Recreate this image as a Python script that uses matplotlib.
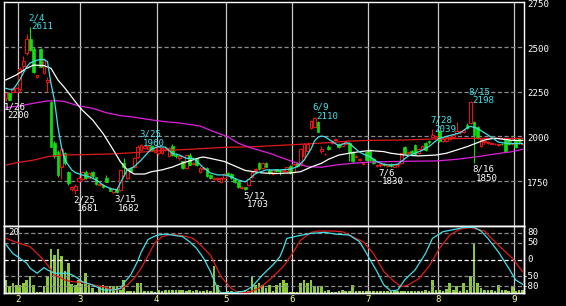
import numpy as np
import pandas as pd
import matplotlib
matplotlib.use("Agg")
import matplotlib.pyplot as plt
from matplotlib import transforms as mtrans

plt.rcParams['lines.scale_dashes'] = False

# ---------------- data ----------------
holidays = ["2022-02-11", "2022-02-23", "2022-03-21", "2022-04-29", "2022-05-03",
            "2022-05-04", "2022-05-05", "2022-07-18", "2022-08-11"]
dates = pd.bdate_range("2022-01-26", "2022-09-05", freq="C", holidays=holidays)

opens = [2215, 2240, 2250, 2250, 2265, 2395, 2467, 2545, 2490, 2332,
         2490, 2356, 2305, 2194, 1965, 1915, 1832, 1905, 1800, 1708,
         1700, 1750, 1760, 1800, 1768, 1800, 1772, 1727, 1728, 1770,
         1712, 1688, 1708, 1702, 1850, 1770, 1826, 1830, 1887, 1925,
         1935, 1930, 1945, 1915, 1905, 1905, 1928, 1890, 1947, 1898,
         1880, 1860, 1825, 1897, 1845, 1878, 1802, 1818, 1822, 1786,
         1762, 1760, 1745, 1770, 1798, 1790, 1765, 1745, 1712, 1715,
         1730, 1775, 1810, 1853, 1822, 1853, 1812, 1790, 1816, 1812,
         1805, 1805, 1836, 1800, 1853, 1840, 1890, 1918, 2045, 2055,
         2082, 1920, 1900, 1943, 1965, 1980, 1960, 1945, 1960, 1962,
         1915, 1885, 1870, 1848, 1915, 1925, 1875, 1836, 1840, 1845,
         1835, 1845, 1832, 1838, 1850, 1943, 1905, 1920, 1950, 1905,
         1930, 1962, 1977, 1998, 1990, 2030, 1975, 1972, 1985, 1995,
         2018, 2022, 2026, 2065, 2075, 2080, 2054, 1945, 1966, 1962,
         1960, 1955, 1952, 1960, 1978, 1980, 1955, 1978, 1984, 1955]
highs = [2250, 2245, 2278, 2275, 2385, 2450, 2570, 2611, 2500, 2345,
         2495, 2440, 2330, 2200, 1975, 1925, 1950, 1912, 1805, 1722,
         1735, 1780, 1808, 1810, 1800, 1805, 1776, 1738, 1732, 1785,
         1718, 1710, 1712, 1815, 1877, 1826, 1830, 1885, 1950, 1960,
         1952, 1955, 1950, 1948, 1945, 1940, 1940, 1940, 1955, 1905,
         1900, 1865, 1900, 1905, 1858, 1882, 1835, 1830, 1828, 1790,
         1775, 1772, 1775, 1795, 1802, 1795, 1770, 1750, 1725, 1720,
         1765, 1805, 1822, 1858, 1855, 1858, 1818, 1816, 1820, 1818,
         1820, 1832, 1840, 1850, 1858, 1936, 1965, 1968, 2090, 2110,
         2088, 1948, 1908, 1952, 1980, 1990, 1965, 1970, 1978, 1968,
         1920, 1895, 1880, 1858, 1920, 1930, 1880, 1846, 1850, 1850,
         1848, 1850, 1845, 1850, 1910, 1948, 1920, 1925, 1955, 1935,
         1950, 1968, 1982, 2039, 2005, 2036, 1990, 2005, 2000, 2015,
         2080, 2035, 2042, 2072, 2198, 2085, 2058, 1990, 1978, 1972,
         1968, 1962, 1960, 1965, 1982, 1985, 1985, 1982, 1988, 1982]
lows = [2200, 2203, 2245, 2245, 2255, 2370, 2455, 2475, 2355, 2325,
        2385, 2350, 2250, 1940, 1880, 1775, 1760, 1840, 1730, 1695,
        1681, 1745, 1752, 1760, 1762, 1770, 1730, 1722, 1712, 1745,
        1694, 1684, 1682, 1698, 1780, 1765, 1800, 1825, 1880, 1918,
        1928, 1925, 1920, 1910, 1898, 1900, 1920, 1885, 1890, 1882,
        1870, 1818, 1820, 1838, 1838, 1835, 1798, 1812, 1772, 1762,
        1755, 1752, 1740, 1765, 1782, 1765, 1742, 1712, 1708, 1703,
        1725, 1770, 1805, 1812, 1818, 1828, 1792, 1786, 1800, 1785,
        1800, 1800, 1792, 1796, 1832, 1835, 1885, 1912, 2040, 2050,
        2022, 1905, 1896, 1925, 1958, 1975, 1935, 1940, 1955, 1860,
        1850, 1880, 1865, 1843, 1865, 1865, 1848, 1832, 1830, 1833,
        1830, 1830, 1828, 1832, 1845, 1900, 1900, 1905, 1895, 1900,
        1925, 1920, 1960, 1995, 1985, 1970, 1970, 1968, 1980, 1990,
        2012, 2015, 2020, 2042, 2070, 1850, 1985, 1940, 1960, 1958,
        1955, 1950, 1948, 1950, 1912, 1950, 1950, 1935, 1960, 1950]
closes = [2240, 2205, 2270, 2272, 2375, 2420, 2543, 2482, 2362, 2340,
          2390, 2426, 2315, 1943, 1890, 1785, 1930, 1850, 1740, 1715,
          1722, 1770, 1800, 1768, 1796, 1778, 1735, 1733, 1718, 1748,
          1698, 1706, 1692, 1810, 1832, 1822, 1808, 1880, 1943, 1950,
          1945, 1948, 1925, 1942, 1940, 1935, 1932, 1935, 1897, 1888,
          1892, 1822, 1895, 1842, 1852, 1840, 1825, 1824, 1777, 1767,
          1770, 1768, 1770, 1790, 1787, 1770, 1748, 1718, 1718, 1706,
          1760, 1800, 1817, 1818, 1850, 1832, 1798, 1812, 1805, 1805,
          1815, 1828, 1797, 1845, 1837, 1932, 1960, 1960, 2085, 2105,
          2027, 1928, 1904, 1928, 1975, 1986, 1940, 1965, 1970, 1908,
          1862, 1890, 1875, 1853, 1870, 1870, 1852, 1842, 1845, 1838,
          1842, 1835, 1840, 1845, 1905, 1906, 1915, 1910, 1900, 1930,
          1945, 1925, 1966, 2008, 2000, 1975, 1985, 1998, 1995, 2010,
          2032, 2028, 2036, 2048, 2194, 2008, 1990, 1984, 1972, 1966,
          1964, 1958, 1956, 1955, 1918, 1955, 1978, 1940, 1966, 1978]
volume = [4.0, 2.0, 3.0, 2.3, 2.3, 3.0, 4.0, 5.2, 2.5, 0.4,
          0.4, 2.0, 5.2, 13.1, 11.4, 13.1, 11.0, 6.5, 9.0, 2.8,
          2.5, 4.0, 2.8, 6.0, 2.5, 1.5, 0.4, 2.0, 2.5, 1.5,
          2.0, 2.0, 2.0, 1.0, 4.0, 0.5, 0.7, 0.5, 3.0, 3.0,
          0.5, 0.7, 0.5, 0.4, 0.8, 0.5, 1.0, 1.0, 1.0, 0.8,
          1.0, 1.0, 0.7, 0.8, 0.7, 0.8, 0.5, 0.7, 1.0, 0.6,
          8.2, 2.5, 0.4, 0.4, 0.5, 0.6, 0.4, 0.5, 0.6, 0.8,
          0.6, 5.2, 2.5, 3.0, 2.5, 1.5, 2.5, 0.7, 2.5, 3.0,
          4.0, 3.0, 0.4, 0.4, 0.4, 3.0, 4.0, 3.0, 4.0, 2.2,
          2.2, 2.2, 0.5, 1.0, 0.4, 0.4, 0.6, 1.0, 0.7, 0.5,
          2.3, 0.5, 0.7, 0.5, 0.6, 0.5, 0.7, 0.5, 0.7, 0.6,
          0.7, 0.7, 0.5, 0.6, 0.5, 0.7, 0.5, 0.6, 0.5, 0.6,
          0.7, 1.0, 0.6, 4.0, 1.0, 1.0, 0.6, 1.2, 3.0, 1.0,
          2.0, 0.6, 3.0, 1.0, 5.2, 14.9, 3.0, 1.5, 1.0, 1.0,
          1.0, 0.6, 2.5, 1.0, 1.0, 0.6, 2.2, 0.7, 1.0, 1.0]

# moving averages (day index, price)
ma5_days = [0, 2, 4, 6, 7, 9, 11, 12, 13, 14, 15, 16, 17, 18, 19, 20, 22, 24, 26, 28,
            30, 32, 33, 35, 37, 39, 41, 42, 44, 46, 48, 50, 52, 54, 55, 57, 59, 61, 63, 65,
            67, 69, 70, 72, 75, 79, 82, 84, 86, 88, 89, 90, 91, 92, 93, 95, 96, 98, 99, 100,
            102, 104, 105, 107, 109, 111, 113, 114, 116, 118, 120, 122, 124, 125, 128, 131,
            133, 134, 136, 138, 139, 141, 142, 145, 149]
ma5_vals = [2268, 2259, 2315, 2389, 2410, 2426, 2430, 2417, 2296, 2203, 2054, 1943, 1870,
            1840, 1813, 1798, 1785, 1775, 1757, 1729, 1710, 1701, 1740, 1813, 1831, 1868,
            1910, 1930, 1943, 1940, 1905, 1896, 1878, 1878, 1862, 1825, 1796, 1785, 1785,
            1775, 1757, 1746, 1760, 1792, 1813, 1813, 1817, 1831, 1868, 1930, 1975, 1995,
            2002, 1998, 1985, 1960, 1948, 1963, 1962, 1945, 1912, 1893, 1887, 1859, 1844,
            1840, 1845, 1860, 1890, 1906, 1922, 1943, 1975, 1989, 2005, 2020, 2047, 2056,
            2044, 2020, 2008, 1982, 1968, 1960, 1960]
ma25_days = [0, 3, 6, 8, 11, 13, 15, 17, 18, 20, 22, 25, 28, 31, 33, 35, 37, 40, 42, 45,
             48, 51, 53, 56, 57, 59, 63, 66, 69, 74, 78, 82, 85, 88, 91, 93, 96, 99, 102,
             105, 109, 111, 115, 119, 124, 127, 130, 133, 136, 138, 141, 143, 146, 149]
ma25_vals = [2315, 2343, 2380, 2398, 2395, 2380, 2315, 2270, 2245, 2194, 2147, 2092, 2017,
             1924, 1859, 1813, 1790, 1790, 1803, 1813, 1829, 1852, 1863, 1882, 1885, 1877,
             1860, 1835, 1810, 1796, 1793, 1796, 1803, 1829, 1850, 1872, 1896, 1906, 1915,
             1921, 1915, 1906, 1896, 1891, 1896, 1906, 1924, 1943, 1965, 1980, 1990, 1985,
             1978, 1978]
ma75_days = [0, 4, 8, 12, 15, 17, 21, 25, 29, 33, 37, 42, 46, 50, 56, 60, 64, 67, 71, 76,
             80, 84, 87, 91, 95, 100, 105, 115, 124, 130, 136, 141, 146, 149]
ma75_vals = [2160, 2170, 2185, 2198, 2199, 2194, 2170, 2157, 2132, 2116, 2107, 2092, 2082,
             2075, 2058, 2026, 1998, 1962, 1934, 1906, 1878, 1850, 1831, 1828, 1840, 1850,
             1857, 1861, 1863, 1872, 1887, 1902, 1915, 1928]
malong_days = [0, 4, 8, 12, 16, 22, 30, 37, 44, 53, 63, 72, 79, 85, 93, 99, 105, 115, 124,
               134, 149]
malong_vals = [1840, 1856, 1868, 1887, 1896, 1898, 1902, 1909, 1920, 1928, 1939, 1943, 1950,
               1956, 1965, 1974, 1978, 1980, 1986, 1989, 1989]

# oscillators in lower panel (day index, value)
rci_fast_days = [0, 2, 4, 6, 7, 9, 11, 12, 14, 18, 20, 22, 25, 28, 31, 33, 34, 36, 38, 39,
                 41, 43, 44, 46, 48, 51, 53, 55, 57, 59, 61, 62, 66, 69, 71, 74, 77, 79, 80,
                 81, 84, 88, 92, 95, 99, 102, 104, 107, 109, 111, 113, 115, 118, 121, 123,
                 126, 130, 132, 135, 137, 139, 142, 145, 147, 149]
rci_fast_vals = [45, 18, 4, -11, -26, -41, -24, -31, -41, -41, -51, -66, -76, -91, -91, -86,
                 -71, -46, -5, 22, 60, 70, 73, 76, 73, 68, 53, 33, 4, -36, -86, -100, -99,
                 -94, -81, -46, -16, 8, 33, 63, 70, 78, 81, 76, 73, 53, 18, -36, -76, -94,
                 -91, -61, -31, 18, 63, 83, 91, 96, 96, 85, 63, 23, -26, -61, -74]
rci_slow_days = [0, 4, 7, 10, 12, 14, 17, 19, 22, 25, 28, 31, 33, 35, 37, 39, 41, 43, 45,
                 47, 48, 51, 54, 56, 59, 62, 65, 67, 70, 73, 76, 79, 80, 82, 85, 88, 90, 94,
                 97, 100, 103, 106, 109, 112, 114, 116, 119, 122, 125, 128, 131, 134, 138,
                 140, 143, 146, 149]
rci_slow_vals = [63, 48, 38, 8, -16, -46, -61, -66, -68, -76, -81, -91, -88, -76, -56, -26,
                 12, 50, 68, 74, 75, 71, 63, 45, 13, -51, -86, -100, -98, -86, -61, -31, -21,
                 8, 58, 81, 85, 85, 83, 68, 53, 18, -36, -66, -81, -76, -58, -21, 33, 73, 91,
                 95, 85, 63, 33, 4, -36]

price_ticks = [1750, 2000, 2250, 2500, 2750]
osc_ticks = [80, 50, 0, -50, -80]
vol_top = 20
peak_dates = ["2022-02-04", "2022-03-25", "2022-06-09", "2022-07-28", "2022-08-15"]
trough_dates = ["2022-01-26", "2022-02-25", "2022-03-15", "2022-05-12", "2022-07-06",
                "2022-08-16"]

# ---------------- style ----------------
BG = "black"
UP = "#ee1111"
DOWN = "#11dd11"
CYAN = "#40e0e8"
MAG = "#e020e0"
RED_L = "#e01a1a"
VOLC = "#8cc83c"
GRID_V = "#c8c8c8"
GRID_H = "#8c8c8c"
YEL = "#ffff88"
FONT = dict(family="DejaVu Sans Mono", size=6.6)

W, H = 566, 306
fig = plt.figure(figsize=(W / 100, H / 100), dpi=100, facecolor=BG)
ax = fig.add_axes([4 / W, (H - 226) / H, 520 / W, 224 / H])
axv = fig.add_axes([4 / W, (H - 293) / H, 520 / W, 67 / H])
axo = axv.twinx()

n = len(closes)
xs = np.arange(n)
xlim = (-0.54, 149.4)

for a in (ax, axv, axo):
    a.set_facecolor(BG)
    a.set_xlim(*xlim)
    a.set_xticks([])
    a.set_yticks([])
    for s in a.spines.values():
        s.set_color("white")
        s.set_linewidth(1.0)
axo.patch.set_visible(False)

ax.set_ylim(1500, 2750)
axv.set_ylim(0, vol_top)
axo.set_ylim(-100, 100)

# month separators
month_start = [i for i in range(1, n) if dates[i].month != dates[i - 1].month]
month_pos = [i - 0.5 for i in month_start]
for a in (ax, axv):
    for p in month_pos:
        a.axvline(p, color=GRID_V, lw=0.9, zorder=1)

# horizontal dashed grid
for v in price_ticks[:-1]:
    ax.axhline(v, color=GRID_H, lw=0.9, ls=(0, (3, 1.8)), zorder=1)
for v in osc_ticks:
    col = "white" if v == 0 else GRID_H
    axo.axhline(v, color=col, lw=0.9, ls=(0, (3, 1.8)), zorder=1)

# candles
o = np.array(opens, float); c = np.array(closes, float)
hi = np.array(highs, float); lo = np.array(lows, float)
up = c >= o
ax.vlines(xs[up], lo[up], hi[up], color=UP, lw=0.8, zorder=2)
ax.vlines(xs[~up], lo[~up], hi[~up], color=DOWN, lw=0.8, zorder=2)
body_lo = np.minimum(o, c)
body_h = np.maximum(np.abs(c - o), 0.5)
ax.bar(xs[up], body_h[up], bottom=body_lo[up], width=0.78, facecolor=BG,
       edgecolor=UP, linewidth=0.75, zorder=3)
ax.bar(xs[~up], body_h[~up], bottom=body_lo[~up], width=0.78, facecolor=DOWN,
       edgecolor=DOWN, linewidth=0.5, zorder=3)

# moving averages
ax.plot(malong_days, malong_vals, color=RED_L, lw=0.9, zorder=4)
ax.plot(ma75_days, ma75_vals, color=MAG, lw=0.9, zorder=4)
ax.plot(ma25_days, ma25_vals, color="white", lw=0.9, zorder=4)
ax.plot(ma5_days, ma5_vals, color=CYAN, lw=0.9, zorder=5)

# volume
axv.bar(xs, volume, width=0.75, color=VOLC, linewidth=0, zorder=2)

# oscillators
axo.plot(rci_slow_days, rci_slow_vals, color=RED_L, lw=0.9, zorder=3)
axo.plot(rci_fast_days, rci_fast_vals, color=CYAN, lw=0.9, zorder=4)

# annotations of highs and lows
def lab(d):
    return f"{d.month}/{d.day}"

for ds in peak_dates:
    i = dates.get_loc(pd.Timestamp(ds))
    t1 = mtrans.offset_copy(ax.transData, fig=fig, x=-1.5, y=4.9, units="points")
    t2 = mtrans.offset_copy(ax.transData, fig=fig, x=1.0, y=-1.6, units="points")
    ax.text(i, highs[i], lab(dates[i]), transform=t1, color=CYAN, ha="left",
            va="baseline", zorder=6, **FONT)
    ax.text(i, highs[i], str(highs[i]), transform=t2, color=CYAN, ha="left",
            va="baseline", zorder=6, **FONT)
for ds in trough_dates:
    i = dates.get_loc(pd.Timestamp(ds))
    t1 = mtrans.offset_copy(ax.transData, fig=fig, x=-1.5, y=-6.1, units="points")
    t2 = mtrans.offset_copy(ax.transData, fig=fig, x=1.0, y=-12.6, units="points")
    ax.text(i, lows[i], lab(dates[i]), transform=t1, color="white", ha="left",
            va="baseline", zorder=6, clip_on=False, **FONT)
    ax.text(i, lows[i], str(lows[i]), transform=t2, color="white", ha="left",
            va="baseline", zorder=6, clip_on=False, **FONT)

# right-hand scales
tp = mtrans.offset_copy(ax.get_yaxis_transform(), fig=fig, x=2.2, y=-1.6, units="points")
for v in price_ticks:
    ax.text(1.0, v, str(v), transform=tp, color="white", ha="left", va="center",
            clip_on=False, **FONT)
to_pos = mtrans.offset_copy(axo.get_yaxis_transform(), fig=fig, x=2.5, y=0, units="points")
to_neg = mtrans.offset_copy(axo.get_yaxis_transform(), fig=fig, x=-1.4, y=0, units="points")
for v in osc_ticks:
    axo.text(1.0, v, str(v), transform=to_pos if v >= 0 else to_neg, color="white",
             ha="left", va="center", clip_on=False, **FONT)

# volume scale label
tv = mtrans.offset_copy(axv.transAxes, fig=fig, x=3.0, y=-1.5, units="points")
axv.text(0, 1, str(vol_top), transform=tv, color="white", ha="left", va="top", **FONT)

# month labels
tm = mtrans.offset_copy(mtrans.blended_transform_factory(axv.transData, axv.transAxes),
                        fig=fig, x=0, y=-1.6, units="points")
for i, p in zip(month_start, month_pos):
    axv.text(p, 0, str(dates[i].month), transform=tm, color=YEL, ha="center", va="top",
             clip_on=False, **FONT)

fig.savefig("out.png", dpi=100, facecolor=BG)
